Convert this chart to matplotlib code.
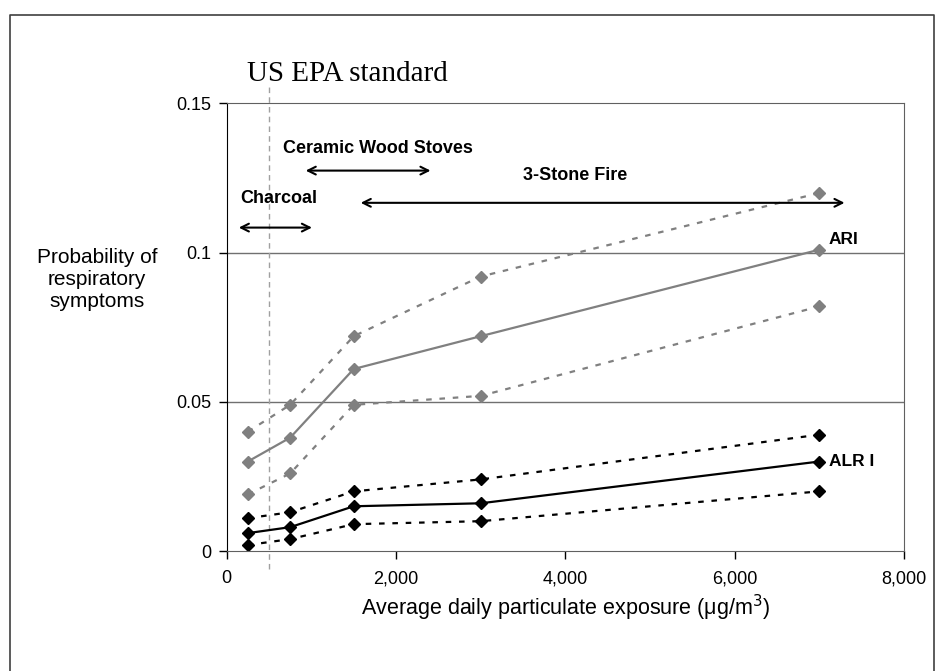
import matplotlib
matplotlib.use("Agg")
import matplotlib.pyplot as plt
from matplotlib.lines import Line2D
from matplotlib.ticker import FuncFormatter

exposure = [250, 750, 1500, 3000, 7000]

ari_mid = [0.030, 0.038, 0.061, 0.072, 0.101]
ari_upper = [0.040, 0.049, 0.072, 0.092, 0.120]
ari_lower = [0.019, 0.026, 0.049, 0.052, 0.082]

alri_mid = [0.006, 0.008, 0.015, 0.016, 0.030]
alri_upper = [0.011, 0.013, 0.020, 0.024, 0.039]
alri_lower = [0.002, 0.004, 0.009, 0.010, 0.020]

epa_standard = 500

# stove ranges: (label, start, end, arrow y, label x, label y)
ranges = [
    ("Charcoal", 110, 1040, 0.1084, 620, 0.118),
    ("Ceramic Wood Stoves", 900, 2440, 0.1275, 1790, 0.135),
    ("3-Stone Fire", 1550, 7330, 0.1167, 4110, 0.1258),
]

plt.rcParams['font.family'] = ['Liberation Sans', 'DejaVu Sans']

fig = plt.figure(figsize=(9.43, 6.71), dpi=100)
ax = fig.add_axes([0.2404, 0.1788, 0.7183, 0.667])

gray = '#808080'
dash = (0, (2.5, 3.5))
ax.plot(exposure, ari_upper, color=gray, ls=dash, lw=1.6, marker='D', ms=6.5)
ax.plot(exposure, ari_lower, color=gray, ls=dash, lw=1.6, marker='D', ms=6.5)
ax.plot(exposure, ari_mid, color=gray, lw=1.6, marker='D', ms=6.5)
ax.plot(exposure, alri_upper, color='black', ls=dash, lw=1.6, marker='D', ms=6.5)
ax.plot(exposure, alri_lower, color='black', ls=dash, lw=1.6, marker='D', ms=6.5)
ax.plot(exposure, alri_mid, color='black', lw=1.6, marker='D', ms=6.5)

ax.text(exposure[-1] + 110, ari_mid[-1] + 0.0034, "ARI", fontsize=12.5, fontweight='bold', va='center')
ax.text(exposure[-1] + 110, alri_mid[-1], "ALR I", fontsize=12.5, fontweight='bold', va='center')

ax.set_xlim(0, 8000)
ax.set_ylim(0, 0.15)
ax.set_xticks([0, 2000, 4000, 6000, 8000])
ax.set_yticks([0, 0.05, 0.1, 0.15])
ax.xaxis.set_major_formatter(FuncFormatter(lambda v, p: f"{int(v):,}"))
ax.set_yticklabels(["0", "0.05", "0.1", "0.15"])
ax.tick_params(labelsize=13, length=6, width=1)
ax.tick_params(axis='x', pad=8)
ax.tick_params(axis='y', pad=5)

for yv in [0.05, 0.1]:
    ax.axhline(yv, color='#707070', lw=1, zorder=0)
for s in ['top', 'right', 'bottom']:
    ax.spines[s].set_color('#606060')
ax.spines['left'].set_color('black')

ax.axvline(epa_standard, ymin=-0.04, ymax=1.04, color='#a0a0a0', ls=(0, (4, 3)), lw=1, clip_on=False, zorder=0)
ax.text(1430, 0.1598, "US EPA standard", family=['Liberation Serif', 'DejaVu Serif'],
        fontsize=21, ha='center', va='center')

for label, x0, x1, ya, xt, yt in ranges:
    ax.annotate("", xy=(x1, ya), xytext=(x0, ya),
                arrowprops=dict(arrowstyle='<->', color='black', lw=1.5, mutation_scale=14))
    ax.text(xt, yt, label, fontsize=13, fontweight='bold', ha='center', va='center')

ax.set_xlabel("Average daily particulate exposure (\u03bcg/m$^3$)", fontsize=15.5, labelpad=4)
fig.text(0.103, 0.584, "Probability of\nrespiratory\nsymptoms", fontsize=15,
         ha='center', va='center', linespacing=1.2)

# outer frame (open at the bottom, as in the reference crop)
fx0, fx1, fy1 = 0.0101, 0.9905, 0.9776
fig.lines.append(Line2D([fx0, fx0, fx1, fx1], [0, fy1, fy1, 0], transform=fig.transFigure,
                        color='#404040', lw=1.2))

fig.savefig("out.png", dpi=100)
